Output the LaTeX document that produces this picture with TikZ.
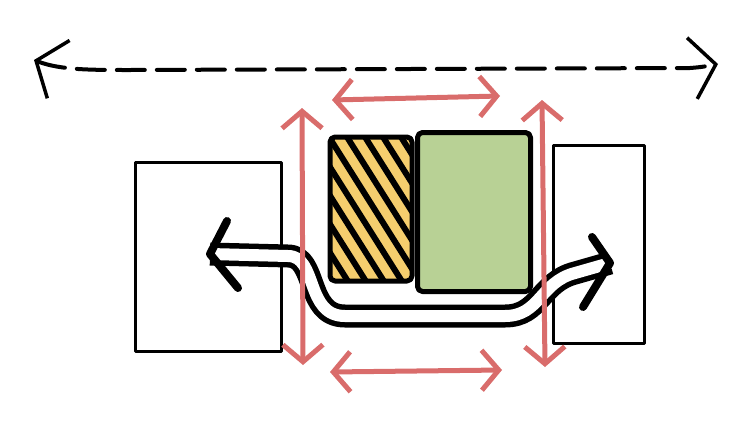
\documentclass[tikz,border=0pt]{standalone}
\usepackage{tikz}
\usetikzlibrary{arrows.meta, positioning}
\definecolor{mvred}{HTML}{D96C6B}
\definecolor{mvgreen}{HTML}{B8D195}
\definecolor{mvyellow}{HTML}{F5CE6E}

\begin{document}
\begin{tikzpicture}[
    x=1pt, y=-1pt,
    line cap=round, line join=round,
    host/.style={rectangle, draw=black, line width=3pt, fill=white, inner sep=0pt},
    part/.style={rectangle, rounded corners=5pt, draw=black, line width=5pt, inner sep=0pt},
    hatched/.style={part, fill=mvyellow, path picture={
        \foreach \s in {-150,-132,...,60}
            \draw[line width=6pt] ([xshift=\s pt]path picture bounding box.north) -- ++(92,146);}},
    span/.style={draw=black, line width=4pt, dash pattern=on 28pt off 12pt,
        >={Straight Barb[length=24pt, width=62pt, line width=3.5pt]}, <->},
    swing/.style={draw=mvred, line width=5pt, >={Straight Barb[length=17pt, width=40pt]}, <->},
    carry/.style={draw=black, line width=5.5pt, double=white, double distance=12pt, line cap=butt},
    head/.style={draw=black, line width=8pt}
]
\useasboundingbox (0,0) rectangle (735,426);

% Boxes
\node[host, minimum width=146pt, minimum height=189pt] (lbox) at (208,257) {};
\node[host, minimum width=91pt, minimum height=198pt] (rbox) at (599,244) {};
\node[hatched, minimum width=82pt, minimum height=144pt] (ybox) at (371,209) {};
\node[part, fill=mvgreen, minimum width=113pt, minimum height=159pt] (gbox) at (474,212) {};

% Arrow ends
\coordinate (dl) at (34,60);
\coordinate (dr) at (718,64);
\coordinate (tl) at (332,100);
\coordinate (tr) at (500,96);
\coordinate (bl) at (330,372);
\coordinate (br) at (502,370);
\coordinate (vl1) at (302,108);
\coordinate (vl2) at (303,365);
\coordinate (vr1) at (542,100);
\coordinate (vr2) at (545,367);
\coordinate (lt) at (210,254);
\coordinate (la1) at (227,221);
\coordinate (la2) at (238,288);
\coordinate (rt) at (610,263);
\coordinate (ra1) at (592,237);
\coordinate (ra2) at (583,307);

% Connections
\draw[carry] (lt) -- (288,256) .. controls (318,256) and (305,316) .. (345,316)
    -- (505,316) .. controls (540,316) and (540,282) .. (575,273) -- (rt);
\draw[head] (la1) -- (lt) -- (la2);
\draw[head] (ra1) -- (rt) -- (ra2);

\draw[swing] (tl) -- (tr);
\draw[swing] (bl) -- (br);
\draw[swing] (vl1) -- (vl2);
\draw[swing] (vr1) -- (vr2);

\draw[span] (dl) .. controls (60,70) and (90,70) .. (130,70) -- (690,68) .. controls (705,67) and (712,65) .. (dr);
\end{tikzpicture}
\end{document}
